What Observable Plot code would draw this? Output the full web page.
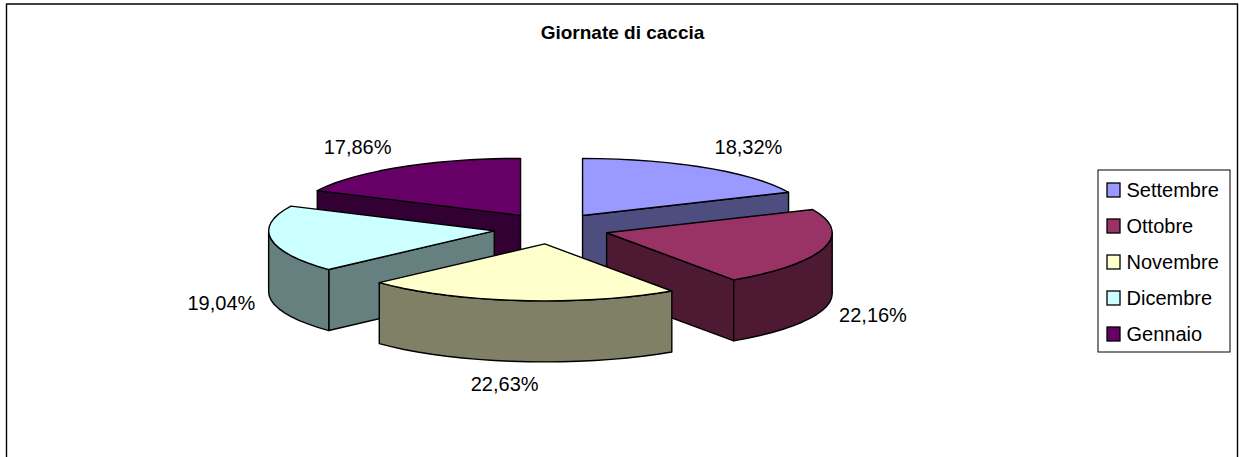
<!DOCTYPE html>
<html>
<head>
<meta charset="utf-8">
<script src="https://cdn.jsdelivr.net/npm/d3@7"></script>
<script src="https://cdn.jsdelivr.net/npm/@observablehq/plot@0.6"></script>
<style>
  html, body { margin: 0; padding: 0; background: #fff; }
  svg { display: block; }
</style>
</head>
<body>
<div id="chart"></div>
<script>
// ---- data ----
const months = ["Settembre", "Ottobre", "Novembre", "Dicembre", "Gennaio"];
const shares = [18.32, 22.16, 22.63, 19.04, 17.86];
const labels = ["18,32%", "22,16%", "22,63%", "19,04%", "17,86%"];
const topColors = ["#9999FF", "#993366", "#FFFFCC", "#CCFFFF", "#660066"];
const sideColors = ["#4D4D80", "#4D1933", "#808066", "#668080", "#330033"];
const title = "Giornate di caccia";

// ---- layout ----
const W = 1239, H = 457;
const cx = 550.7, cy = 228, rx = 225.6, ry = 57, depth = 61;
const explodeX = 57.6, explodeY = 15.5;
const font = "Liberation Sans, Arial, sans-serif";
const drawOrder = [0, 4, 1, 3, 2];

// ---- geometry from the values ----
const total = d3.sum(shares);
let running = 0;
const slices = shares.map((v, i) => {
  const a0 = running / total * 2 * Math.PI;
  running += v;
  const a1 = running / total * 2 * Math.PI;
  const mid = (a0 + a1) / 2;
  return {i, a0, a1, mid,
    ax: cx + explodeX * Math.sin(mid),
    ay: cy - explodeY * Math.cos(mid)};
});
const rim = (s, a, down = 0) => ({x: s.ax + rx * Math.sin(a), y: s.ay - ry * Math.cos(a) + down});
const arc = (s, a0, a1, down = 0) => {
  const n = Math.max(2, Math.ceil((a1 - a0) / (Math.PI / 40)));
  return d3.range(n + 1).map(k => rim(s, a0 + (a1 - a0) * k / n, down));
};

const polys = [];
for (const idx of drawOrder) {
  const s = slices[idx];
  const apex = {x: s.ax, y: s.ay}, apexD = {x: s.ax, y: s.ay + depth};
  // radial faces that look towards the viewer
  if (Math.sin(s.a0) < -1e-6) polys.push({pts: [apex, rim(s, s.a0), rim(s, s.a0, depth), apexD], fill: sideColors[idx]});
  if (Math.sin(s.a1) > 1e-6) polys.push({pts: [apex, rim(s, s.a1), rim(s, s.a1, depth), apexD], fill: sideColors[idx]});
  // outer wall: only the front half of the ellipse
  const w0 = Math.max(s.a0, Math.PI / 2), w1 = Math.min(s.a1, 3 * Math.PI / 2);
  if (w1 > w0) polys.push({pts: [...arc(s, w0, w1), ...arc(s, w0, w1, depth).reverse()], fill: sideColors[idx]});
  // top
  polys.push({pts: [apex, ...arc(s, s.a0, s.a1)], fill: topColors[idx]});
}

const labelData = slices.map(s => {
  const sn = Math.sin(s.mid), cs = Math.cos(s.mid);
  return {
    text: labels[s.i],
    x: s.ax + 240.5 * sn + 35 * Math.max(-1, Math.min(1, sn / 0.3)),
    y: s.ay - 80.5 * cs + (cs < 0 ? depth : 0)
  };
});

// ---- legend rows ----
const legendRow = i => 190 + i * 36;
const legend = months.map((m, i) => ({m, i, y: legendRow(i)}));

const marks = [
  // chart frame (open at the bottom, as in the picture)
  Plot.line([{x: 6, y: H}, {x: 6, y: 3.5}, {x: 1237, y: 3.5}, {x: 1237, y: H}],
    {x: "x", y: "y", stroke: "#000", strokeWidth: 1.4}),
  Plot.text([title], {x: () => 622, y: () => 32, text: d => d, fontFamily: font, fontWeight: "bold", fontSize: 19, fill: "#000"}),
  ...polys.map(p => Plot.line(p.pts.concat([p.pts[0]]), {
    x: "x", y: "y", fill: p.fill, stroke: "#000", strokeWidth: 1.4,
    strokeLinejoin: "round", curve: "linear"
  })),
  Plot.text(labelData, {x: "x", y: "y", text: "text", fontFamily: font, fontSize: 20, fill: "#000"}),
  // legend
  Plot.rect([{x1: 1098, x2: 1230, y1: 170, y2: 352}], {x1: "x1", x2: "x2", y1: "y1", y2: "y2", fill: "#fff", stroke: "#000", strokeWidth: 1}),
  Plot.rect(legend, {
    x1: () => 1107, x2: () => 1120, y1: d => d.y - 7, y2: d => d.y + 7,
    fill: d => topColors[d.i], stroke: "#000", strokeWidth: 1.3
  }),
  Plot.text(legend, {x: () => 1126, y: "y", text: "m", textAnchor: "start", fontFamily: font, fontSize: 20, fill: "#000"})
];

const chart = Plot.plot({
  width: W, height: H,
  marginTop: 0, marginRight: 0, marginBottom: 0, marginLeft: 0,
  x: {domain: [0, W], range: [0, W], axis: null},
  y: {domain: [0, H], range: [0, H], axis: null},
  style: {background: "#fff", fontFamily: font},
  marks
});
document.getElementById("chart").append(chart);
</script>
</body>
</html>
